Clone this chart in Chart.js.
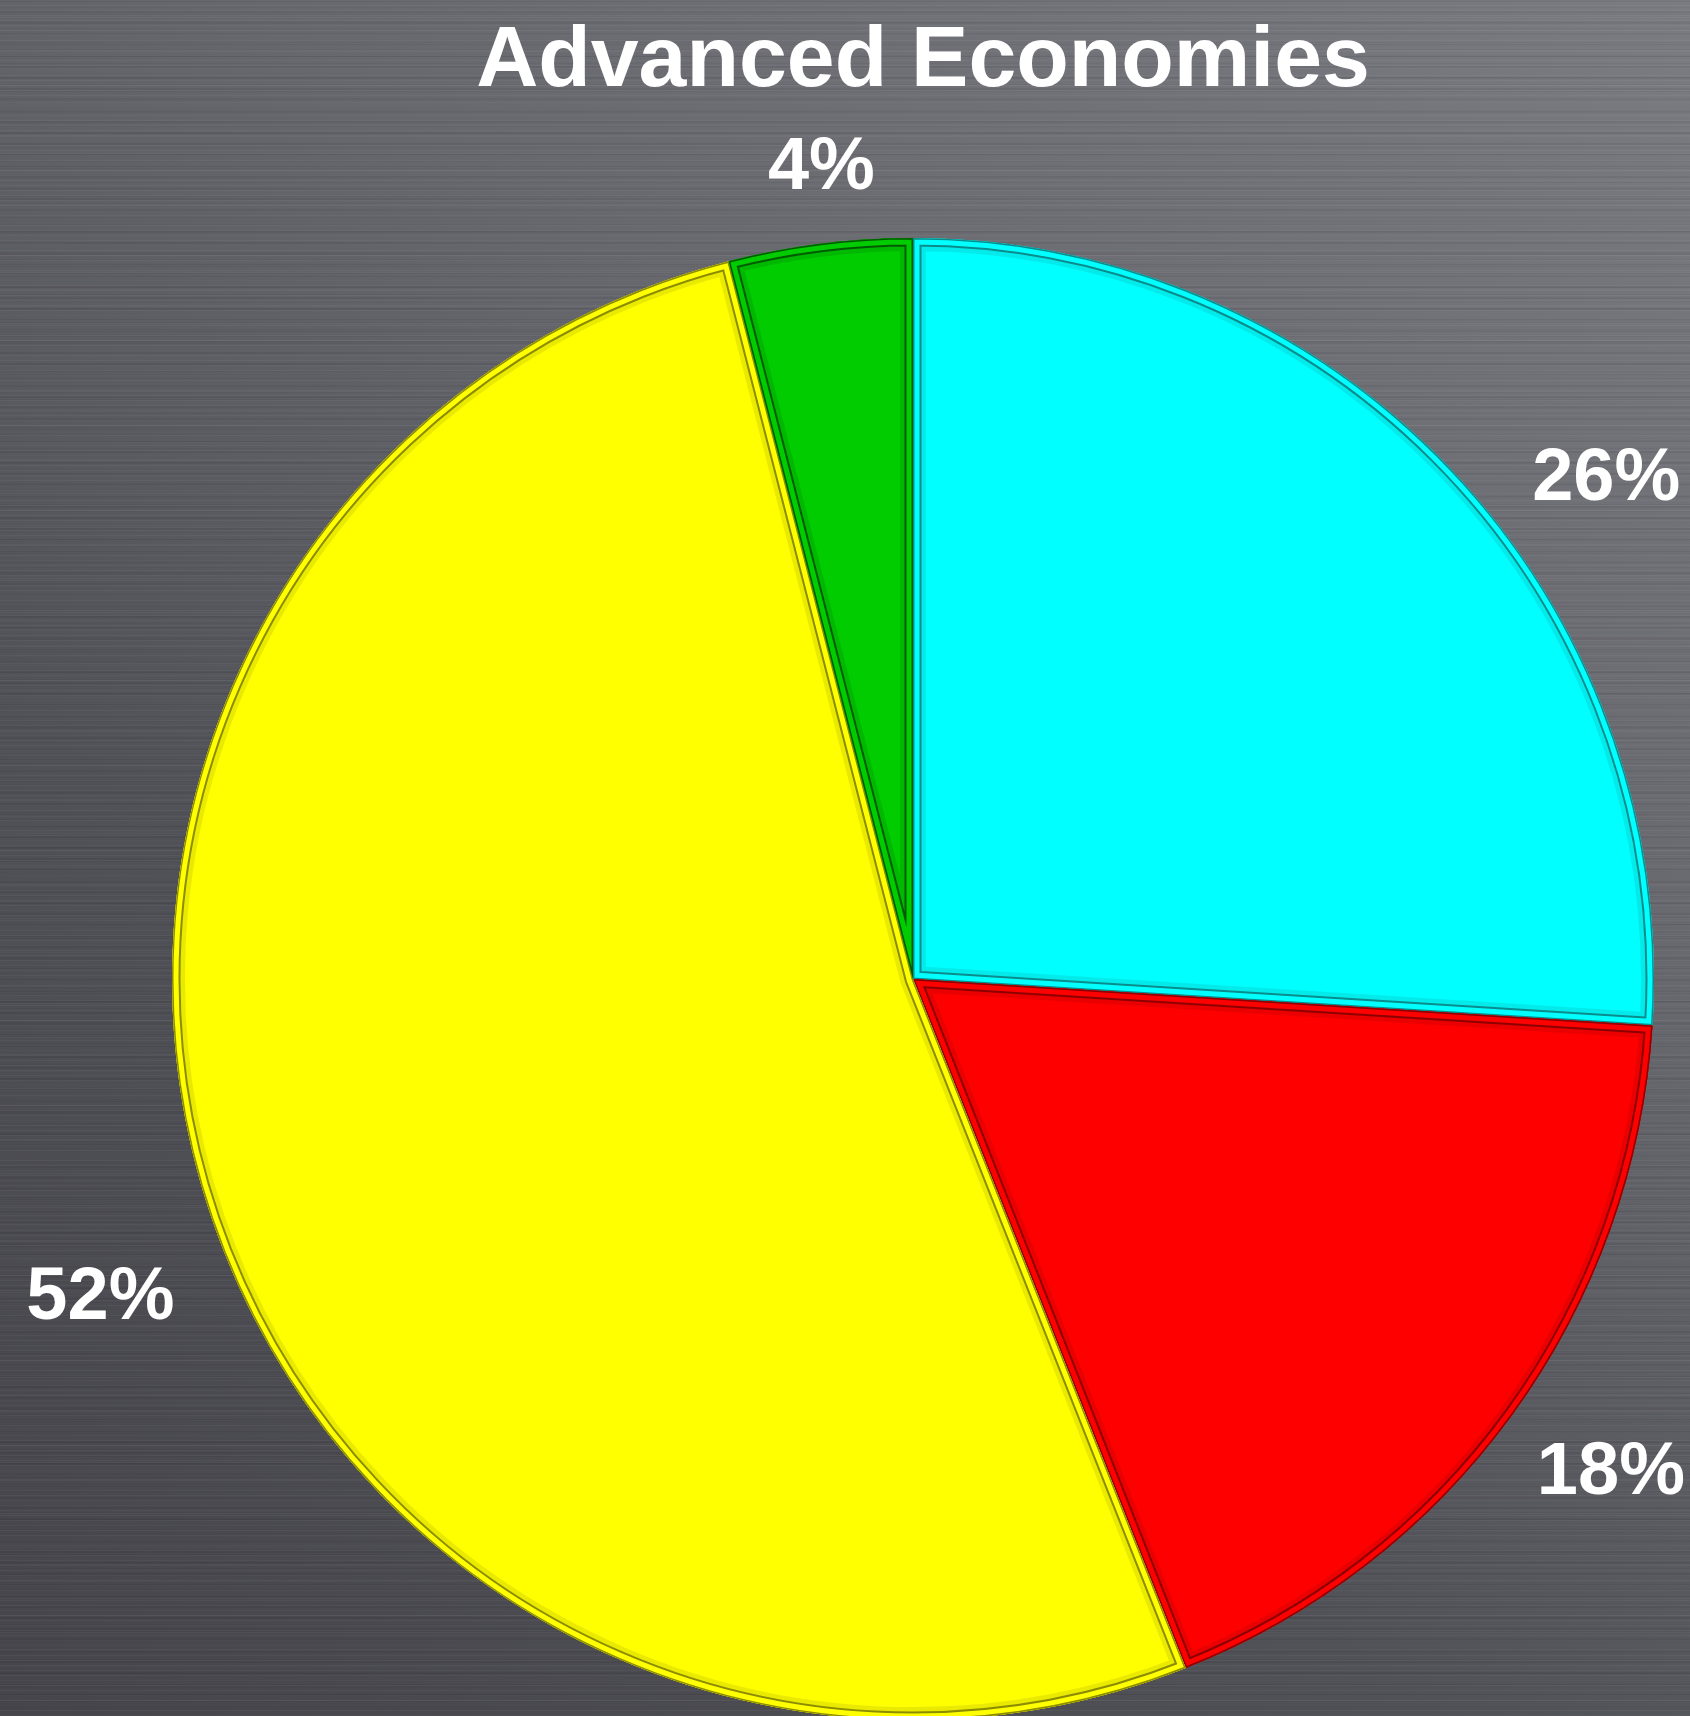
<!DOCTYPE html>
<html>
<head>
<meta charset="utf-8">
<script src="https://cdn.jsdelivr.net/npm/chart.js@4/dist/chart.umd.min.js"></script>
<style>
  html, body {
    margin: 0;
    width: 1690px;
    height: 1716px;
    overflow: hidden;
  }
  body {
    background-color: #5c5c63;
    background-image:
      repeating-linear-gradient(180deg, rgba(255,255,255,0.035) 0 1px, transparent 1px 5px),
      repeating-linear-gradient(180deg, rgba(0,0,0,0.06) 0 2px, transparent 2px 11px),
      repeating-linear-gradient(180deg, rgba(255,255,255,0.03) 0 1px, transparent 1px 17px),
      repeating-linear-gradient(180deg, rgba(0,0,0,0.04) 0 1px, transparent 1px 7px),
      linear-gradient(215deg, #7b7b82 0%, #67676e 35%, #515158 65%, #45454b 100%);
  }
  #wrap { position: absolute; left: 0; top: 0; }
</style>
</head>
<body>
<div id="wrap"><canvas id="pieChart" width="1690" height="1724"></canvas></div>
<script>
// ---- data ----
const TITLE = "Advanced Economies";
const CATEGORIES = ["Segment 1", "Segment 2", "Segment 3", "Segment 4"];
const SHARES = [26, 18, 52, 4];
const SLICE_COLORS = ["#00ffff", "#ff0000", "#ffff00", "#00cc00"];
const EDGE_COLORS = ["#0a8c8c", "#8c0000", "#8c8c00", "#005c00"];

// label placement: angle nudge (deg) from the slice middle, gap beyond the rim (px)
const LABEL_NUDGE = [
    { angle: 7.1, gap: 117 },
    { angle: -1.0, gap: 111 },
    { angle: -3.1, gap: 130 },
    { angle: 0.8, gap: 81 }
];

const FONT_FAMILY = '"Liberation Sans", Arial, sans-serif';

// --- bevelled edges drawn over each slice ---
const bevelPlugin = {
    id: "bevel",
    afterDatasetsDraw(chart) {
        const ctx = chart.ctx;
        const meta = chart.getDatasetMeta(0);
        meta.data.forEach((arc, i) => {
            const p = arc.getProps(["x", "y", "startAngle", "endAngle", "outerRadius"], true);
            ctx.save();
            ctx.beginPath();
            ctx.moveTo(p.x, p.y);
            ctx.arc(p.x, p.y, p.outerRadius, p.startAngle, p.endAngle);
            ctx.closePath();
            ctx.clip();
            ctx.lineJoin = "round";

            // soft inner shadow
            ctx.globalAlpha = 0.18;
            ctx.strokeStyle = EDGE_COLORS[i];
            ctx.lineWidth = 26;
            ctx.stroke();

            // dark inner groove
            ctx.globalAlpha = 1;
            ctx.lineWidth = 17;
            ctx.stroke();

            // bright rim band
            ctx.strokeStyle = SLICE_COLORS[i];
            ctx.lineWidth = 13;
            ctx.stroke();

            // outer edge line
            ctx.strokeStyle = EDGE_COLORS[i];
            ctx.lineWidth = 3;
            ctx.stroke();
            ctx.restore();
        });
    }
};

// --- title and percentage labels ---
const textPlugin = {
    id: "pieText",
    afterDraw(chart) {
        const ctx = chart.ctx;
        ctx.save();
        ctx.fillStyle = "#ffffff";
        ctx.textAlign = "center";
        ctx.textBaseline = "alphabetic";

        ctx.font = "bold 86px " + FONT_FAMILY;
        ctx.fillText(TITLE, 923, 86);

        const fontSize = 74;
        ctx.font = "bold " + fontSize + "px " + FONT_FAMILY;
        const total = SHARES.reduce((a, b) => a + b, 0);
        const meta = chart.getDatasetMeta(0);
        meta.data.forEach((arc, i) => {
            const p = arc.getProps(["x", "y", "startAngle", "endAngle", "outerRadius"], true);
            const nudge = LABEL_NUDGE[i];
            const a = (p.startAngle + p.endAngle) / 2 + nudge.angle * Math.PI / 180;
            const d = p.outerRadius + nudge.gap;
            const lx = p.x + Math.cos(a) * d;
            const ly = p.y + Math.sin(a) * d;
            const pct = Math.round(SHARES[i] / total * 100) + "%";
            ctx.fillText(pct, lx, ly + fontSize * 0.716 / 2);
        });
        ctx.restore();
    }
};

const ctx = document.getElementById("pieChart").getContext("2d");
new Chart(ctx, {
    type: "pie",
    data: {
        labels: CATEGORIES,
        datasets: [{
            data: SHARES,
            backgroundColor: SLICE_COLORS,
            borderWidth: 0
        }]
    },
    options: {
        responsive: false,
        animation: false,
        layout: {
            padding: { left: 172, right: 36, top: 238, bottom: 4 }
        },
        plugins: {
            legend: { display: false },
            tooltip: { enabled: false },
            title: { display: false }
        }
    },
    plugins: [bevelPlugin, textPlugin]
});
</script>
</body>
</html>
